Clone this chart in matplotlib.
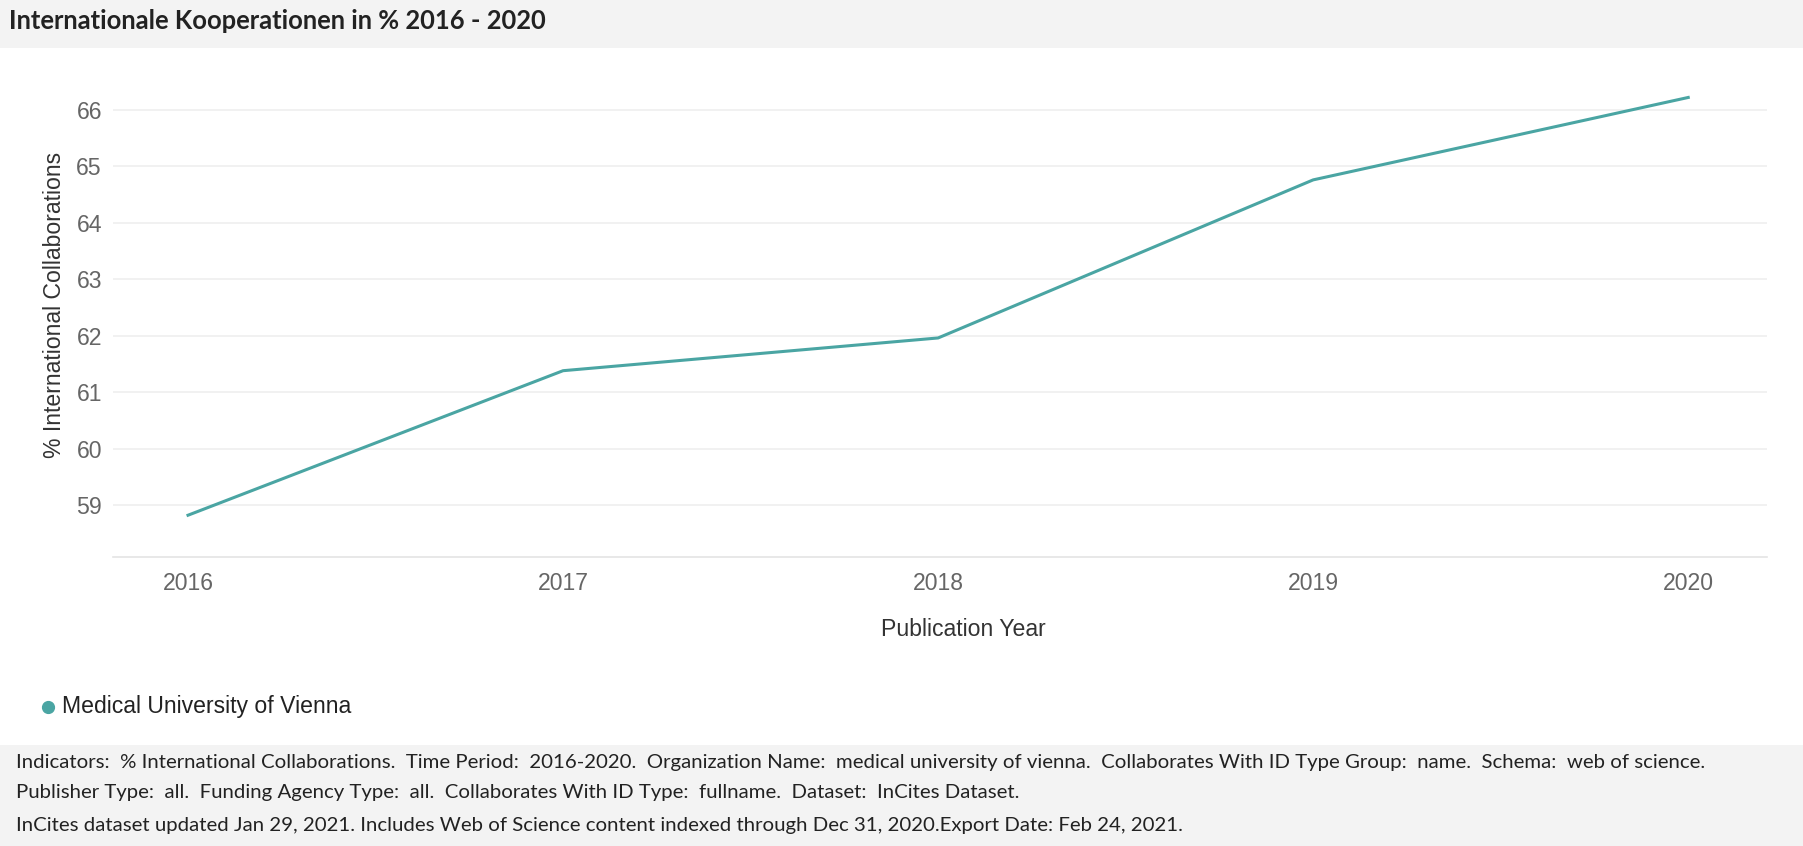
import matplotlib
matplotlib.use("Agg")
import matplotlib.pyplot as plt
from matplotlib.patches import Rectangle
from matplotlib.lines import Line2D

years = [2016, 2017, 2018, 2019, 2020]
values = [58.82, 61.38, 61.96, 64.76, 66.22]
yticks = [59, 60, 61, 62, 63, 64, 65, 66]
series_name = "Medical University of Vienna"
title = "Internationale Kooperationen in % 2016 - 2020"
xlabel = "Publication Year"
ylabel = "% International Collaborations"
footer_lines = [
    "Indicators:  % International Collaborations.  Time Period:  2016-2020.  Organization Name:  medical university of vienna.  Collaborates With ID Type Group:  name.  Schema:  web of science.",
    "Publisher Type:  all.  Funding Agency Type:  all.  Collaborates With ID Type:  fullname.  Dataset:  InCites Dataset.",
    "InCites dataset updated Jan 29, 2021. Includes Web of Science content indexed through Dec 31, 2020.Export Date: Feb 24, 2021.",
]

W, H = 1803, 846
fig = plt.figure(figsize=(W / 100, H / 100), dpi=100)
fig.patch.set_facecolor("white")

# background bands
fig.patches.append(Rectangle((0, 1 - 48 / H), 1, 48 / H, transform=fig.transFigure,
                             facecolor="#f3f3f3", edgecolor="none", zorder=0))
fig.patches.append(Rectangle((0, 0), 1, (H - 745) / H, transform=fig.transFigure,
                             facecolor="#f3f3f3", edgecolor="none", zorder=0))

line_color = "#4aa5a3"
fs = 16.6

ax = fig.add_axes([113 / W, 1 - 557 / H, (1767 - 113) / W, (557 - 76) / H])
ax.set_facecolor("none")
ax.plot(years, values, color=line_color, lw=2.2, solid_joinstyle="round")
ax.set_xlim(2015.80, 2020.21)
ax.set_ylim(58.08, 66.6)
ax.set_yticks(yticks)
ax.set_xticks(years)
ax.set_xticklabels([str(y) for y in years])
for s in ["top", "right", "left"]:
    ax.spines[s].set_visible(False)
ax.spines["bottom"].set_color("#e4e4e4")
ax.spines["bottom"].set_linewidth(1.2)
ax.grid(axis="y", color="#efefef", lw=1.2)
ax.set_axisbelow(True)
ax.tick_params(axis="both", length=0, labelsize=fs, labelcolor="#666666")
ax.tick_params(axis="y", pad=8)
ax.tick_params(axis="x", pad=11)
for lab in ax.get_xticklabels() + ax.get_yticklabels():
    lab.set_fontfamily("Liberation Sans")

fig.text(963 / W, 1 - 629 / H, xlabel, ha="center", va="center", fontsize=fs,
         color="#333333", family="Liberation Sans")
fig.text(55 / W, 1 - 305 / H, ylabel, ha="center", va="center", rotation=90,
         fontsize=fs, color="#333333", family="Liberation Sans")

fig.text(9 / W, 1 - 21 / H, title, ha="left", va="center", fontsize=18.4,
         fontweight="bold", color="#222222", family="Lato")

# legend
fig.add_artist(Line2D([48 / W], [1 - 707 / H], marker="o", markersize=8.5,
                      color=line_color, transform=fig.transFigure))
fig.text(62 / W, 1 - 706 / H, series_name, ha="left", va="center", fontsize=fs,
         color="#222222", family="Liberation Sans")

for i, (txt, yy) in enumerate(zip(footer_lines, [762, 792, 825])):
    fig.text(16 / W, 1 - yy / H, txt, ha="left", va="center", fontsize=14.65,
             color="#222222", family="Lato")

fig.savefig("out.png", dpi=100, facecolor=fig.get_facecolor())
